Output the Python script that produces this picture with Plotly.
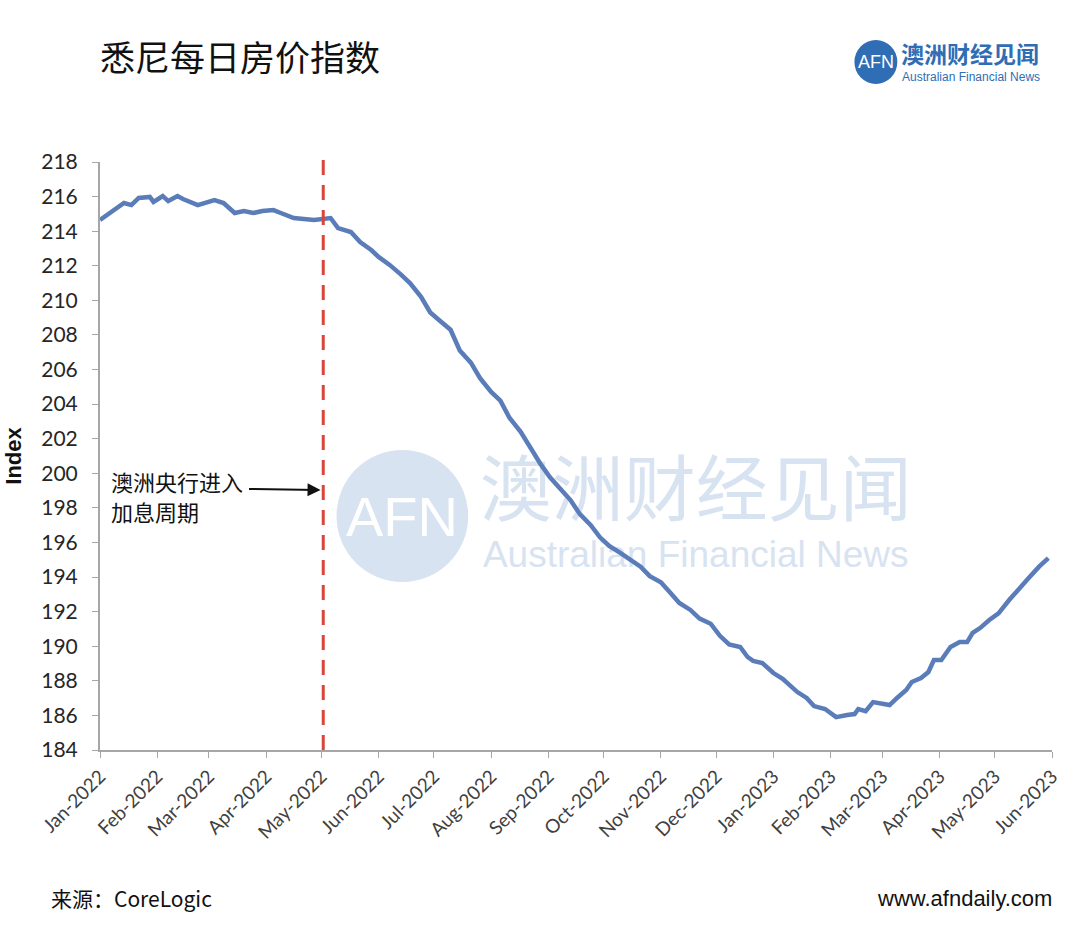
import plotly.graph_objects as go
import pandas as pd

# ---- data ----
dates = [
    "2022-01-01", "2022-01-07", "2022-01-14", "2022-01-18", "2022-01-22", "2022-01-28",
    "2022-01-30", "2022-02-04", "2022-02-07", "2022-02-12", "2022-02-15", "2022-02-23",
    "2022-02-26", "2022-03-04", "2022-03-09", "2022-03-15", "2022-03-20", "2022-03-25",
    "2022-03-30", "2022-04-05", "2022-04-09", "2022-04-16", "2022-04-27", "2022-05-02",
    "2022-05-06", "2022-05-10", "2022-05-17", "2022-05-22", "2022-05-28", "2022-06-01",
    "2022-06-07", "2022-06-13", "2022-06-18", "2022-06-24", "2022-06-29",
    "2022-07-05", "2022-07-10", "2022-07-15", "2022-07-21", "2022-07-26", "2022-08-01",
    "2022-08-06", "2022-08-11", "2022-08-17", "2022-08-22", "2022-08-28", "2022-09-02",
    "2022-09-07", "2022-09-13", "2022-09-18", "2022-09-24", "2022-09-29", "2022-10-04",
    "2022-10-10", "2022-10-15", "2022-10-21", "2022-10-26", "2022-11-01", "2022-11-06",
    "2022-11-11", "2022-11-17", "2022-11-22", "2022-11-28", "2022-12-03", "2022-12-08",
    "2022-12-14", "2022-12-18", "2022-12-21", "2022-12-26", "2023-01-01", "2023-01-06",
    "2023-01-14", "2023-01-19", "2023-01-23", "2023-01-29", "2023-02-04", "2023-02-10",
    "2023-02-14", "2023-02-16", "2023-02-20", "2023-02-24", "2023-02-28", "2023-03-05",
    "2023-03-09", "2023-03-14", "2023-03-17", "2023-03-22", "2023-03-26", "2023-03-29",
    "2023-04-02", "2023-04-07", "2023-04-12", "2023-04-16", "2023-04-19", "2023-04-23",
    "2023-04-28", "2023-05-03", "2023-05-09", "2023-05-14", "2023-05-19", "2023-05-25",
    "2023-05-30",
]
index_values = [
    214.65, 215.11, 215.63, 215.51, 215.92, 215.98,
    215.69, 216.03, 215.74, 216.03, 215.86, 215.51,
    215.63, 215.80, 215.63, 215.05, 215.17, 215.05,
    215.17, 215.22, 215.05, 214.76, 214.65, 214.70,
    214.76, 214.18, 213.95, 213.37, 212.91, 212.51,
    212.05, 211.5, 211.0, 210.2, 209.3,
    208.75, 208.3, 207.1, 206.4, 205.5, 204.7,
    204.2, 203.2, 202.4, 201.5, 200.5, 199.75,
    199.2, 198.45, 197.65, 197.0, 196.3, 195.8,
    195.4, 195.0, 194.6, 194.05, 193.7, 193.1,
    192.5, 192.1, 191.6, 191.3, 190.6, 190.1,
    189.96, 189.38, 189.15, 189.03, 188.45, 188.11,
    187.35, 187.01, 186.54, 186.37, 185.90, 186.02,
    186.08, 186.37, 186.25, 186.77, 186.71, 186.60,
    187.01, 187.47, 187.93, 188.16, 188.51, 189.20,
    189.20, 189.96, 190.24, 190.24, 190.77, 191.05,
    191.52, 191.9, 192.7, 193.35, 193.9, 194.6,
    195.1,
]
rate_hike_date = "2022-05-02"
y_ticks = list(range(184, 219, 2))
x_range = ["2022-01-01", "2023-06-01"]
y_range = [184, 218]

title_text = "悉尼每日房价指数"
annot_line1 = "澳洲央行进入"
annot_line2 = "加息周期"
source_text = "来源：CoreLogic"
site_text = "www.afndaily.com"
wm_cn = "澳洲财经见闻"
wm_en = "Australian Financial News"

LINE_COLOR = "#5a7cb9"
AXIS_COLOR = "#a6a6a6"
WM_COLOR = "#d8e3f1"
LOGO_BLUE = "#2f6db4"
CJK = "Noto Sans CJK SC"
TICKFONT = "Lato"

# plot area in pixels
L, R, T, B = 98, 1052, 162, 750
X0, X1 = pd.Timestamp(x_range[0]), pd.Timestamp(x_range[1])


def px(x):
    return (x - L) / (R - L)


def py(y):
    return (B - y) / (B - T)


def xd(p):  # pixel -> date on x axis (for watermark placement only)
    return X0 + (X1 - X0) * px(p)


def yd(p):  # pixel -> value on y axis (for watermark placement only)
    return y_range[0] + (y_range[1] - y_range[0]) * py(p)


fig = go.Figure()

# --- watermark text drawn beneath the data line ---
fig.add_trace(go.Scatter(
    x=[xd(695)], y=[yd(497)], mode="text", text=[wm_cn],
    textfont=dict(family=CJK, size=72, color=WM_COLOR),
    hoverinfo="skip", showlegend=False, cliponaxis=False,
))
fig.add_trace(go.Scatter(
    x=[xd(695)], y=[yd(558)], mode="text", text=[wm_en],
    textfont=dict(family="Liberation Sans", size=37, color=WM_COLOR),
    hoverinfo="skip", showlegend=False, cliponaxis=False,
))

# --- data line ---
fig.add_trace(go.Scatter(
    x=dates, y=index_values, mode="lines",
    line=dict(color=LINE_COLOR, width=4.5),
    hoverinfo="skip", showlegend=False,
))

# dashed vertical line for rate hike
fig.add_shape(type="line", xref="x", yref="paper",
              x0=rate_hike_date, x1=rate_hike_date, y0=0, y1=py(153),
              line=dict(color="#d9453b", width=3, dash="15px,10px"), layer="above")

# watermark circle + AFN
fig.add_shape(type="circle", xref="paper", yref="paper",
              x0=px(335), x1=px(467), y0=py(582), y1=py(450),
              fillcolor=WM_COLOR, line=dict(width=0), layer="below")
fig.add_annotation(xref="paper", yref="paper", x=px(401), y=py(516),
                   xanchor="center", yanchor="middle",
                   text="AFN", showarrow=False,
                   font=dict(family="Liberation Sans", size=56, color="white"))

# --- annotation with arrow ---
fig.add_annotation(xref="paper", yref="paper", x=px(107), y=py(481),
                   xanchor="left", yanchor="middle", align="left",
                   text=annot_line1, showarrow=False,
                   font=dict(family=CJK, size=22, color="#111111"))
fig.add_annotation(xref="paper", yref="paper", x=px(107), y=py(511),
                   xanchor="left", yanchor="middle", align="left",
                   text=annot_line2, showarrow=False,
                   font=dict(family=CJK, size=22, color="#111111"))
fig.add_annotation(xref="paper", yref="paper", x=px(319), y=py(490),
                   ax=-73, ay=-1, axref="pixel", ayref="pixel",
                   text="", showarrow=True, arrowhead=2, arrowsize=1.3,
                   arrowwidth=2, arrowcolor="#111111")

# --- title ---
fig.add_annotation(xref="paper", yref="paper", x=px(96), y=py(55),
                   xanchor="left", yanchor="middle", text=title_text, showarrow=False,
                   font=dict(family=CJK, size=35, color="#111111"))

# --- logo top right ---
fig.add_shape(type="circle", xref="paper", yref="paper",
              x0=px(854), x1=px(897), y0=py(84), y1=py(40),
              fillcolor=LOGO_BLUE, line=dict(width=0))
fig.add_annotation(xref="paper", yref="paper", x=px(875.5), y=py(62),
                   xanchor="center", yanchor="middle",
                   text="AFN", showarrow=False,
                   font=dict(family="Liberation Sans", size=18, color="white"))
fig.add_annotation(xref="paper", yref="paper", x=px(899), y=py(53),
                   xanchor="left", yanchor="middle", text="<b>澳洲财经见闻</b>", showarrow=False,
                   font=dict(family=CJK, size=23, color=LOGO_BLUE))
fig.add_annotation(xref="paper", yref="paper", x=px(900), y=py(77),
                   xanchor="left", yanchor="middle", text="Australian Financial News",
                   showarrow=False,
                   font=dict(family="Liberation Sans", size=12, color=LOGO_BLUE))

# --- footer ---
fig.add_annotation(xref="paper", yref="paper", x=px(47), y=py(898),
                   xanchor="left", yanchor="middle", text=source_text, showarrow=False,
                   font=dict(family=CJK, size=21, color="#111111"))
fig.add_annotation(xref="paper", yref="paper", x=px(1054), y=py(898),
                   xanchor="right", yanchor="middle", text=site_text, showarrow=False,
                   font=dict(family="Liberation Sans", size=22, color="#111111"))

fig.update_layout(
    width=1080, height=933,
    margin=dict(l=L, r=1080 - R, t=T, b=933 - B),
    paper_bgcolor="white", plot_bgcolor="white",
    xaxis=dict(
        type="date", range=x_range,
        dtick="M1", tick0="2022-01-01", tickformat="%b-%Y",
        tickangle=-45, ticks="outside", ticklen=6, tickcolor=AXIS_COLOR,
        showline=True, linecolor=AXIS_COLOR, linewidth=2,
        showgrid=False, zeroline=False,
        tickfont=dict(family=TICKFONT, size=19, color="#404040"),
    ),
    yaxis=dict(
        range=y_range, tickvals=y_ticks,
        ticks="outside", ticklen=6, tickcolor=AXIS_COLOR,
        showline=True, linecolor=AXIS_COLOR, linewidth=2,
        showgrid=False, zeroline=False, ticklabelstandoff=10,
        tickfont=dict(family=TICKFONT, size=21, color="#262626"),
        title=dict(text="<b>Index</b>", standoff=14,
                   font=dict(family="Liberation Sans", size=22, color="#111111")),
    ),
)

fig.write_html("out.html")
